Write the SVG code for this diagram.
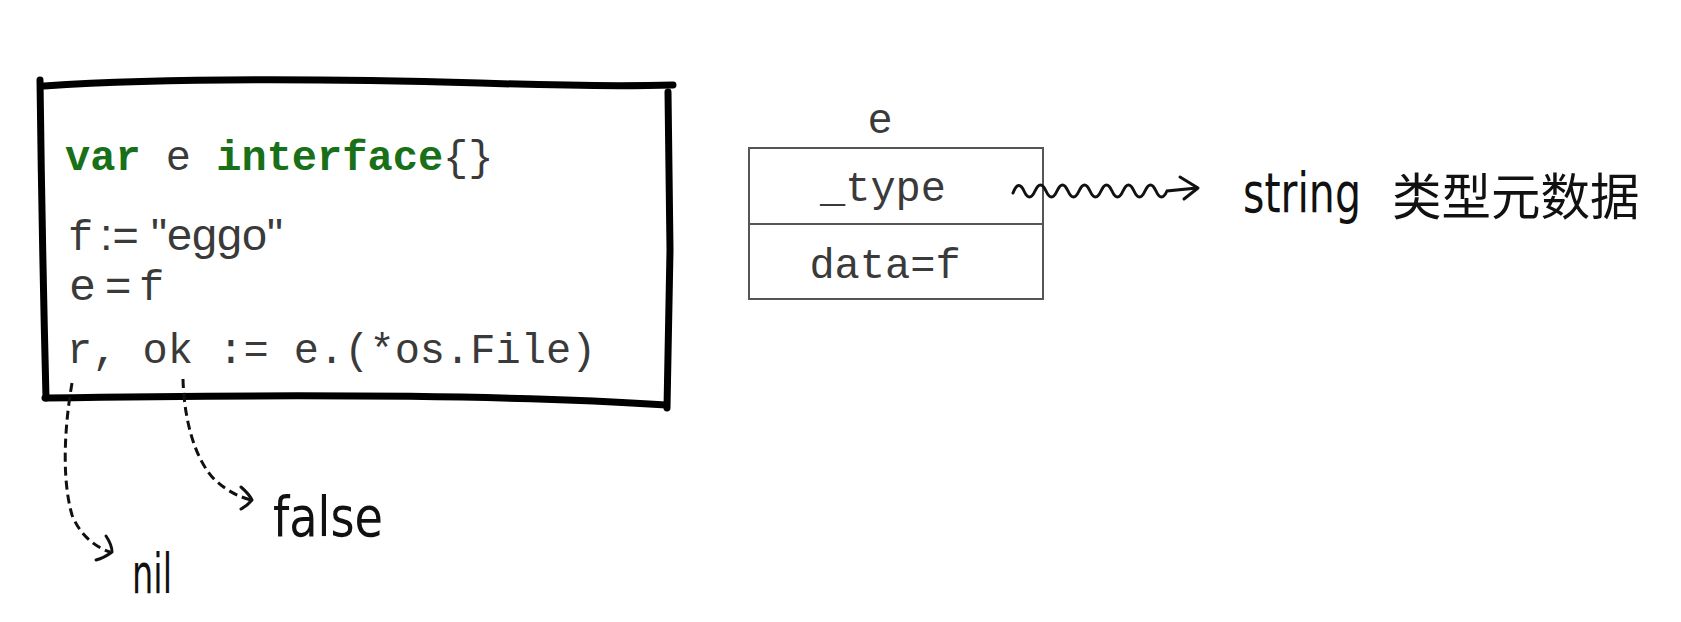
<svg xmlns="http://www.w3.org/2000/svg" width="1681" height="622" viewBox="0 0 1681 622">
<style>
.mono{font-family:"Liberation Mono","Courier New",monospace;font-size:42px;fill:#3a3a3a}
.sans{font-family:"Liberation Sans",Arial,sans-serif;font-size:45px;fill:#3a3a3a}
.kw{font-weight:bold;fill:#187018}
.hand{font-family:"DejaVu Sans",sans-serif;font-size:56px;fill:#111}
.cjk{font-family:"Noto Sans CJK SC",sans-serif;font-size:49.5px;fill:#111}
.frame{fill:none;stroke:#000;stroke-width:7;stroke-linecap:round;stroke-linejoin:round}
.cell{fill:#fff;stroke:#555;stroke-width:2}
.dash{fill:none;stroke:#111;stroke-width:3;stroke-dasharray:9 5}
.wave{fill:none;stroke:#111;stroke-width:3;stroke-linecap:round}
.head{fill:none;stroke:#111;stroke-width:3;stroke-linecap:round;stroke-linejoin:round}
</style>
<rect width="1681" height="622" fill="#fff"/>
<g id="code-box">
<path class="frame" d="M40,80 Q42,240 46,398"/>
<path class="frame" d="M44,86 C150,79 300,78 480,83 Q600,87 673,85"/>
<path class="frame" d="M668,92 L670,250 L667,408"/>
<path class="frame" d="M45,398 C300,394 520,395 666,405"/>
<text class="mono" x="65" y="170"><tspan class="kw">var</tspan> e <tspan class="kw">interface</tspan>{}</text>
<text y="250"><tspan class="mono" x="68">f</tspan><tspan class="sans" x="100">:=</tspan><tspan class="sans" x="151">"eggo"</tspan></text>
<text y="300"><tspan class="sans" x="70">e</tspan><tspan class="sans" x="105">=</tspan><tspan class="mono" x="139">f</tspan></text>
<text class="mono" x="67" y="363">r, ok := e.(*os.File)</text>
</g>
<g id="iface-e">
<text class="mono" x="880" y="133" text-anchor="middle">e</text>
<rect class="cell" x="749" y="148" width="294" height="151"/>
<line x1="749" y1="224" x2="1043" y2="224" stroke="#555" stroke-width="2"/>
<text class="mono" x="883" y="201" text-anchor="middle">_type</text>
<text class="mono" x="885" y="278" text-anchor="middle">data=f</text>
</g>
<g id="meta-label">
<text class="hand" x="1243" y="212" font-size="50" textLength="118" lengthAdjust="spacingAndGlyphs">string</text>
<text class="cjk" x="1392" y="215">类型元数据</text>
</g>
<g id="false-label">
<text class="hand" x="273" y="536" textLength="110" lengthAdjust="spacingAndGlyphs">false</text>
</g>
<g id="nil-label">
<text class="hand" x="132" y="593" textLength="40" lengthAdjust="spacingAndGlyphs">nil</text>
</g>
<g id="connectors">
<path class="dash" d="M72,383 C64,430 62,480 72,515 C80,535 95,547 110,552"/>
<path class="head" d="M106,536 Q112,545 112,552 Q104,558 96,560"/>
<path class="dash" d="M183,379 C184,420 195,460 215,480 C228,492 240,497 251,500"/>
<path class="head" d="M241,487 Q249,494 252,500 Q247,506 241,509"/>
<path class="wave" d="M1013,193 Q1018.5,179 1024,191 T1035,191 T1046,191 T1057,191 T1068,191 T1079,191 T1090,191 T1101,191 T1112,191 T1123,191 T1134,191 T1145,191 T1156,191 T1167,191 L1197,188"/>
<path class="head" d="M1180,177 L1198,188 L1184,199"/>
</g>
</svg>
